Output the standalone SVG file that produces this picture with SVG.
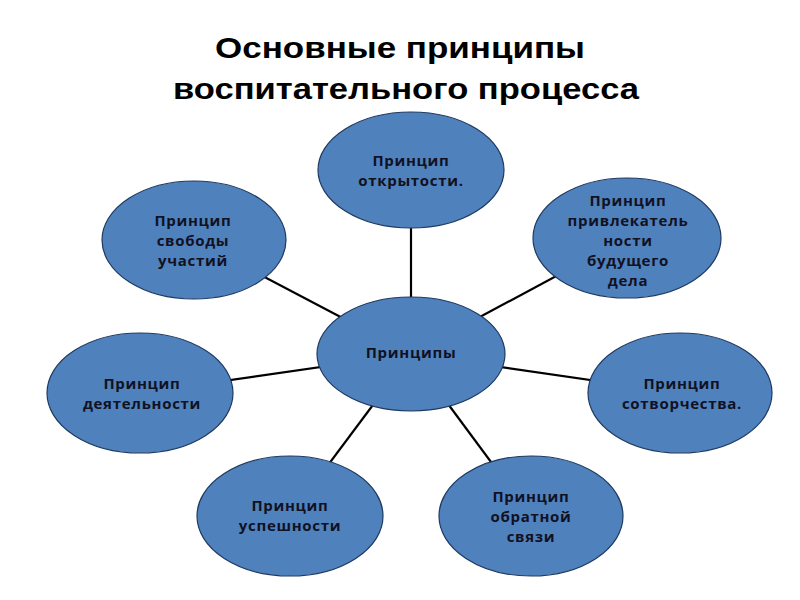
<svg xmlns="http://www.w3.org/2000/svg" width="800" height="600" viewBox="0 0 800 600">
<style>
.title{font-family:"Liberation Sans",Arial,sans-serif;font-weight:bold;font-size:30px;fill:#000;text-anchor:middle}
.node ellipse{fill:#4F81BD;stroke:#1F3A60;stroke-width:1.2}
.node text{font-family:"Open Sans","Noto Sans",sans-serif;font-weight:bold;font-size:15px;letter-spacing:0.7px;fill:#111122;text-anchor:middle}
.conn line{stroke:#000;stroke-width:2.2}
</style>
<rect width="800" height="600" fill="#fff"/>
<text class="title" x="400" y="58" textLength="370" lengthAdjust="spacingAndGlyphs">Основные принципы</text>
<text class="title" x="406" y="99" textLength="466" lengthAdjust="spacingAndGlyphs">воспитательного процесса</text>
<g id="connectors" class="conn">
<line x1="411" y1="354" x2="411" y2="170"/>
<line x1="411" y1="354" x2="194" y2="240"/>
<line x1="411" y1="354" x2="627" y2="238"/>
<line x1="411" y1="354" x2="140" y2="393"/>
<line x1="411" y1="354" x2="680" y2="393"/>
<line x1="411" y1="354" x2="290" y2="516"/>
<line x1="411" y1="354" x2="531" y2="516"/>
</g>
<g id="n-open" class="node">
<ellipse cx="411" cy="170" rx="93" ry="58"/>
<text x="411" y="166">Принцип</text>
<text x="411" y="186">открытости.</text>
</g>
<g id="n-free" class="node">
<ellipse cx="194" cy="240" rx="92" ry="59"/>
<text x="193" y="226">Принцип</text>
<text x="193" y="246">свободы</text>
<text x="193" y="266">участий</text>
</g>
<g id="n-attr" class="node">
<ellipse cx="627" cy="238" rx="94" ry="60"/>
<text x="628" y="206">Принцип</text>
<text x="628" y="226">привлекатель</text>
<text x="628" y="246">ности</text>
<text x="628" y="266">будущего</text>
<text x="628" y="286">дела</text>
</g>
<g id="n-center" class="node">
<ellipse cx="411" cy="354" rx="94" ry="57"/>
<text x="411" y="358">Принципы</text>
</g>
<g id="n-act" class="node">
<ellipse cx="140" cy="393" rx="93" ry="60"/>
<text x="142" y="389">Принцип</text>
<text x="142" y="409">деятельности</text>
</g>
<g id="n-co" class="node">
<ellipse cx="680" cy="393" rx="92" ry="60"/>
<text x="682" y="389">Принцип</text>
<text x="682" y="409">сотворчества.</text>
</g>
<g id="n-succ" class="node">
<ellipse cx="290" cy="516" rx="93" ry="60"/>
<text x="290" y="511">Принцип</text>
<text x="290" y="531">успешности</text>
</g>
<g id="n-fb" class="node">
<ellipse cx="531" cy="516" rx="92" ry="60"/>
<text x="531" y="502">Принцип</text>
<text x="531" y="522">обратной</text>
<text x="531" y="542">связи</text>
</g>
</svg>
